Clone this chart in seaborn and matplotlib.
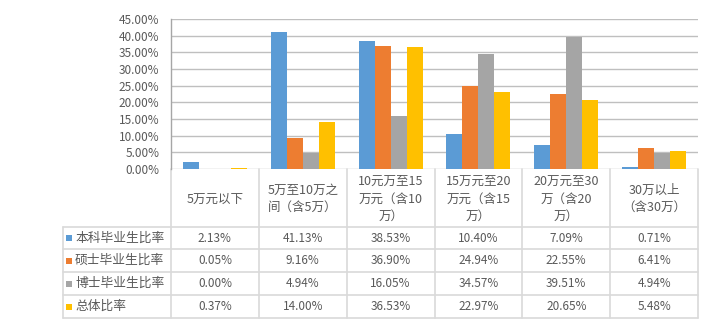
import matplotlib
matplotlib.use("Agg")
import matplotlib.pyplot as plt
import matplotlib.transforms as mtransforms
from matplotlib.patches import Rectangle
from matplotlib.ticker import PercentFormatter, MultipleLocator
import pandas as pd
import seaborn as sns

# Salary bands (header labels as wrapped in the data table)
categories = [
    "5万元以下",
    "5万至10万之\n间（含5万）",
    "10元万至15\n万元（含10\n万）",
    "15万元至20\n万元（含15\n万）",
    "20万元至30\n万（含20\n万）",
    "30万以上\n（含30万）",
]
series_names = ["本科毕业生比率", "硕士毕业生比率", "博士毕业生比率", "总体比率"]
bachelor = [2.13, 41.13, 38.53, 10.40, 7.09, 0.71]
master = [0.05, 9.16, 36.90, 24.94, 22.55, 6.41]
doctor = [0.00, 4.94, 16.05, 34.57, 39.51, 4.94]
overall = [0.37, 14.00, 36.53, 22.97, 20.65, 5.48]
colors = ["#5B9BD5", "#ED7D31", "#A5A5A5", "#FFC000"]
y_ticks = [0, 5, 10, 15, 20, 25, 30, 35, 40, 45]

series_values = [bachelor, master, doctor, overall]
rows = []
for name, vals in zip(series_names, series_values):
    for cat, v in zip(categories, vals):
        rows.append({"band": cat, "series": name, "value": v})
df = pd.DataFrame(rows)

sns.set_style("white")
plt.rcParams["font.family"] = ["Noto Sans CJK SC", "DejaVu Sans"]
text_color = "#595959"
line_color = "#D9D9D9"

W, H = 716, 331
fig = plt.figure(figsize=(W / 100, H / 100), dpi=100)
ax_left, ax_right, ax_top, ax_bottom = 171, 698, 19, 169
ax = fig.add_axes([ax_left / W, 1 - ax_bottom / H,
                   (ax_right - ax_left) / W, (ax_bottom - ax_top) / H])

sns.barplot(data=df, x="band", y="value", hue="series", order=categories,
            hue_order=series_names, palette=colors, width=0.73,
            saturation=1, edgecolor="none", legend=False, ax=ax)

ax.set_xlim(-0.5, len(categories) - 0.5)
ax.set_ylim(min(y_ticks), max(y_ticks))
ax.yaxis.set_major_locator(MultipleLocator(5))
ax.yaxis.set_major_formatter(PercentFormatter(decimals=2))
ax.set_xticks([])
ax.set_xlabel("")
ax.set_ylabel("")
ax.grid(axis="y", color="#BFBFBF", linewidth=1.0)
ax.set_axisbelow(True)
for side in ["top", "right", "bottom"]:
    ax.spines[side].set_visible(False)
ax.spines["left"].set_color("#A6A6A6")
ax.spines["left"].set_linewidth(1.0)
ax.tick_params(axis="y", length=0, pad=8.5, labelsize=8.5, labelcolor=text_color)

# Data table below the plot
def fy(py):
    return 1 - py / H

def fx(px):
    return px / W

blend = mtransforms.blended_transform_factory(ax.transData, fig.transFigure)
table_left = 63
header_bottom = 227
row_edges = [227, 249, 272, 295, 318]
n = len(categories)

# column boundaries
for i in range(n + 1):
    xb = i - 0.5
    ax.plot([xb, xb], [fy(ax_bottom), fy(row_edges[-1])], transform=blend,
            color=line_color, lw=1.2, clip_on=False)
# left edge of the row-label column
fig.add_artist(plt.Line2D([fx(table_left), fx(table_left)],
                          [fy(row_edges[0]), fy(row_edges[-1])],
                          color=line_color, lw=1.2))
# row lines
for yb in row_edges:
    fig.add_artist(plt.Line2D([fx(table_left), fx(ax_right)], [fy(yb), fy(yb)],
                              color=line_color, lw=1.2))

# header labels
for i, cat in enumerate(categories):
    ax.text(i, fy((ax_bottom + header_bottom) / 2 + 1), cat, transform=blend,
            ha="center", va="center", multialignment="center",
            fontsize=9, color=text_color, linespacing=1.45)

# rows: legend swatch, series name, values
sq = 6
for r, (name, vals, col) in enumerate(zip(series_names, series_values, colors)):
    yc = (row_edges[r] + row_edges[r + 1]) / 2
    fig.add_artist(Rectangle((fx(66), fy(yc - 3 + sq)), sq / W, sq / H,
                             transform=fig.transFigure, facecolor=col,
                             edgecolor="none"))
    fig.text(fx(75), fy(yc), name, ha="left", va="center",
             fontsize=9.2, color=text_color)
    for i, v in enumerate(vals):
        ax.text(i, fy(yc), f"{v:.2f}%", transform=blend, ha="center",
                va="center", fontsize=8.5, color=text_color)

fig.savefig("out.png", dpi=100, facecolor="white")
